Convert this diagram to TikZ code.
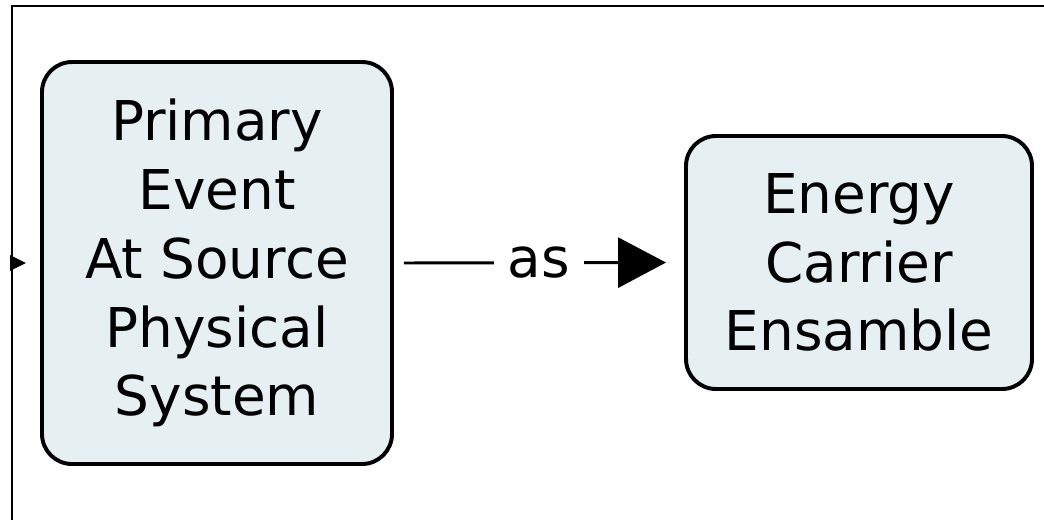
\documentclass[tikz,border=0pt]{standalone}
\usepackage{fontspec}
\setmainfont{DejaVu Sans}
\usetikzlibrary{arrows.meta}
\definecolor{boxfill}{RGB}{230,239,242}

\begin{document}
\begin{tikzpicture}[
	block/.style={draw, fill=boxfill, line width=2.8pt, rounded corners=0.75cm,
		align=center, font=\fontsize{39}{49}\selectfont},
	frame/.style={line width=1.8pt},
	line/.style={line width=2.1pt}
	]
	\useasboundingbox (0,0) rectangle (26.1,-12.975);
	
	% Frame (top and left edges only)
	\draw[frame] (26.2,-0.15) -- (0.3,-0.15) -- (0.3,-13.1);
	\coordinate (in) at (0.3,-6.575);
	
	% Source and carrier blocks
	\node[block, minimum width=8.75cm, minimum height=10.05cm] (src) at (5.425,-6.575)
		{Primary\\Event\\At Source\\Physical\\System};
	\node[block, minimum width=8.65cm, minimum height=6.325cm] (carrier) at (21.475,-6.5625)
		{Energy\\Carrier\\Ensamble};
	
	% Connections
	\draw[line, -{Triangle[length=0.4cm, width=0.375cm]}, shorten >=0.35cm] (in) -- (src.west);
	\draw[line, -{Triangle[length=1.2cm, width=1.25cm]}, shorten <=0.25cm, shorten >=0.45cm]
		(src.east) -- (carrier.west)
		node[midway, fill=white, inner xsep=0.35cm, inner ysep=0pt,
			font=\fontsize{39}{49}\selectfont] {as};
\end{tikzpicture}
\end{document}
